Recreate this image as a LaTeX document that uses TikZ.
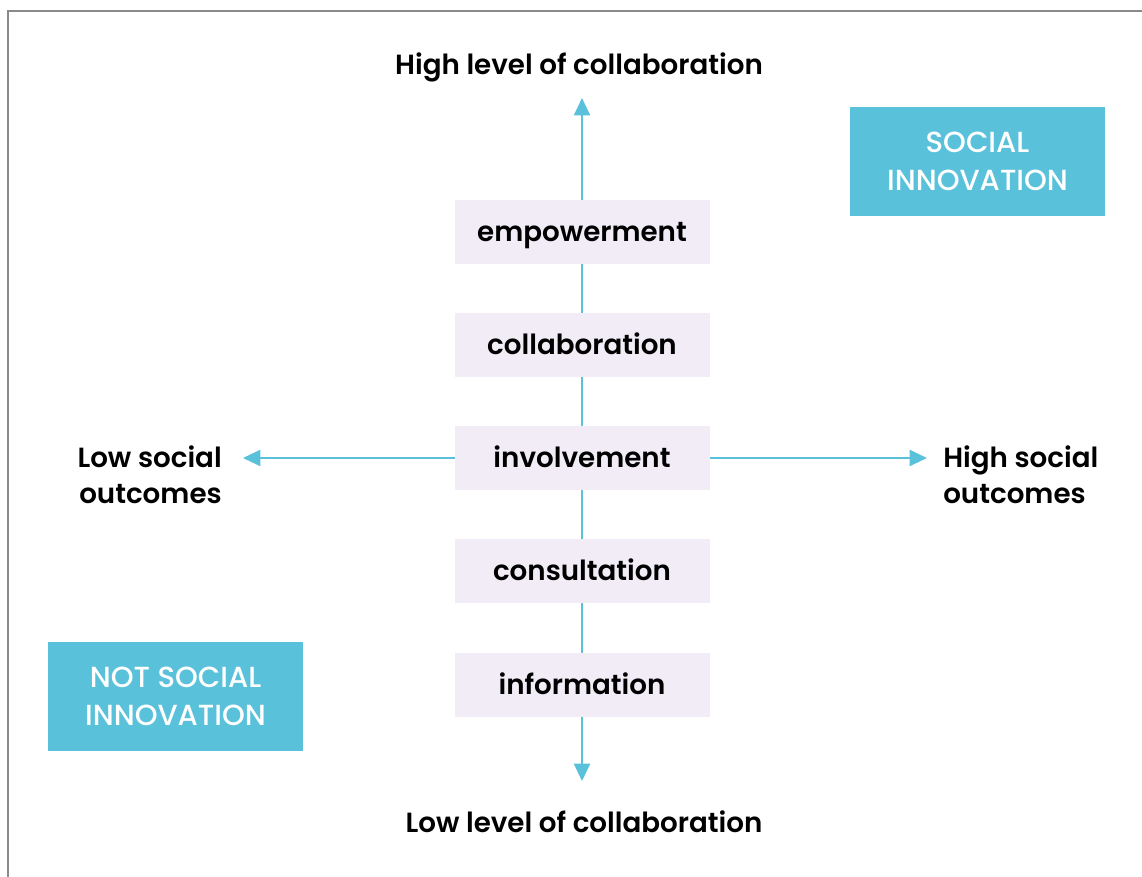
\documentclass[tikz,border=0pt]{standalone}
\usepackage{fontspec}
\setmainfont{Poppins}[BoldFont={Poppins SemiBold}]
\newfontfamily\mediumfont{Poppins Medium}
\usetikzlibrary{arrows.meta}
\definecolor{axisblue}{HTML}{5AC1DB}
\definecolor{stepfill}{HTML}{F1ECF6}
\definecolor{framegray}{HTML}{8A8A8A}
\tikzset{
  px/.style={x=0.75pt,y=-0.75pt},
  levelbox/.style={fill=stepfill,minimum width=191.25pt,minimum height=48pt,inner sep=0pt,
    text height=17pt,text depth=2.6pt,font=\bfseries\fontsize{20.8}{24}\selectfont,text=black},
  zonebox/.style={fill=axisblue,minimum width=191.25pt,minimum height=81.75pt,inner sep=0pt,align=center,font=\mediumfont\fontsize{21.8}{28}\selectfont,text=white},
  axislabel/.style={font=\bfseries\fontsize{20.8}{27}\selectfont,text=black,inner sep=0pt},
  axis/.style={draw=axisblue,line width=1.5pt,-{Triangle[length=13pt,width=12pt]}},
}
\begin{document}
\begin{tikzpicture}[px]
\useasboundingbox (0,0) rectangle (1142,877);
% frame edges
\draw[framegray,line width=1pt] (8,877) -- (8,11) -- (1142,11);

% axis end points
\coordinate (top) at (582,98);
\coordinate (bottom) at (582,781);
\coordinate (left) at (243,458);
\coordinate (right) at (927,458);
\coordinate (centre) at (582,458);

% axes behind the level boxes
\draw[axis] (centre) -- (top);
\draw[axis] (centre) -- (bottom);
\draw[axis] (centre) -- (left);
\draw[axis] (centre) -- (right);

% levels of collaboration
\node[levelbox] (emp) at (582,232) {empowerment};
\node[levelbox] (col) at (582,345) {collaboration};
\node[levelbox] (inv) at (582,458) {involvement};
\node[levelbox] (con) at (582,571) {consultation};
\node[levelbox] (inf) at (582,685) {information};

% axis labels
\node[axislabel] (hi) at (579,67) {High level of collaboration};
\node[axislabel] (lo) at (584,822) {Low level of collaboration};
\node[axislabel,align=right,anchor=east] (lso) at (222,475) {Low social\\outcomes};
\node[axislabel,align=left,anchor=west] (hso) at (943,475) {High social\\outcomes};

% zones
\node[zonebox] (si) at (977.5,161.5) {SOCIAL\\INNOVATION};
\node[zonebox] (nsi) at (175.5,696.5) {NOT SOCIAL\\INNOVATION};
\end{tikzpicture}
\end{document}
